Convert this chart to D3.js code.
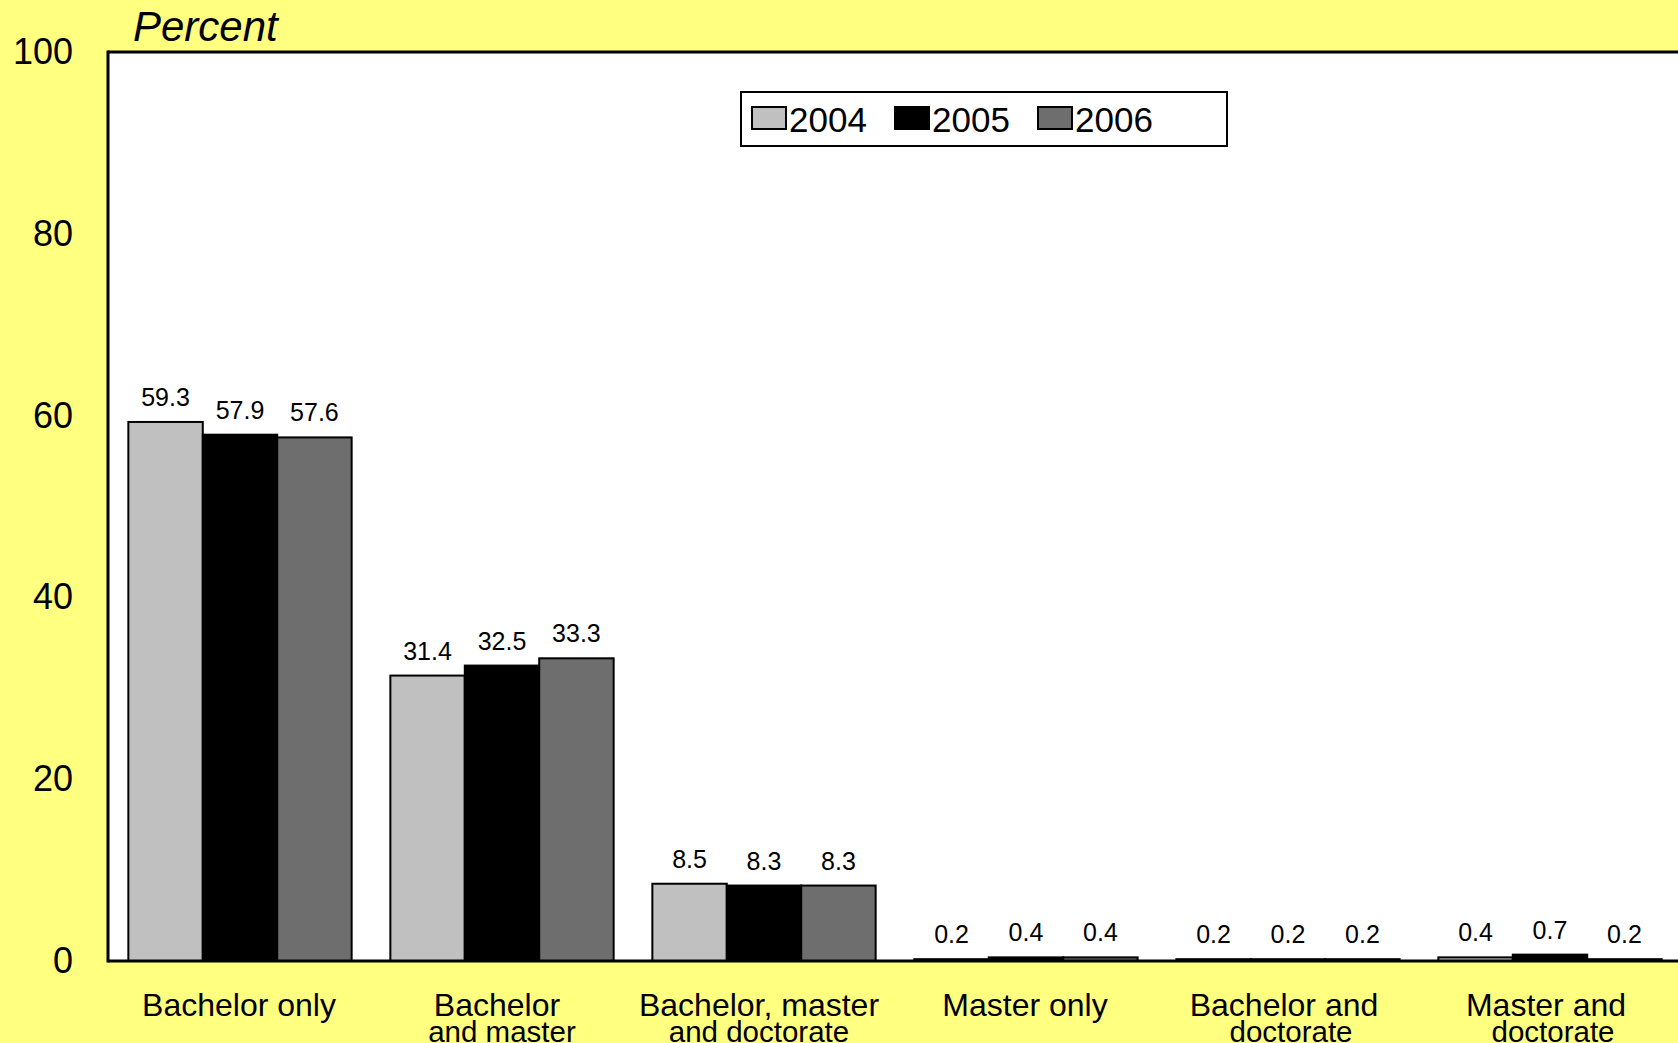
<!DOCTYPE html>
<html>
<head>
<meta charset="utf-8">
<script src="https://cdn.jsdelivr.net/npm/d3@7"></script>
<style>
  body { margin: 0; background: #ffff80; overflow: hidden; }
  text { font-family: "Liberation Sans", Arial, sans-serif; }
</style>
</head>
<body>
<div id="chart"></div>
<script>
var categories = [
  ["Bachelor only"],
  ["Bachelor", "and master"],
  ["Bachelor, master", "and doctorate"],
  ["Master only"],
  ["Bachelor and", "doctorate"],
  ["Master and", "doctorate"]
];
var years = ["2004", "2005", "2006"];
var values2004 = [59.3, 31.4, 8.5, 0.2, 0.2, 0.4];
var values2005 = [57.9, 32.5, 8.3, 0.4, 0.2, 0.7];
var values2006 = [57.6, 33.3, 8.3, 0.4, 0.2, 0.2];
var yTicks = [0, 20, 40, 60, 80, 100];

var colors = ["#c0c0c0", "#000000", "#6e6e6e"];
var series = [values2004, values2005, values2006];

var width = 1678;
var height = 1043;

var svg = d3.select("#chart")
  .append("svg")
  .attr("width", width)
  .attr("height", height);

svg.append("rect")
  .attr("width", width)
  .attr("height", height)
  .attr("fill", "#ffff80");

var plotLeft = 108, plotTop = 52, plotBottom = 961;
var step = 262;

var x0 = d3.scaleBand()
  .domain(d3.range(categories.length))
  .range([plotLeft, plotLeft + step * categories.length])
  .padding(0);

var x1 = d3.scaleBand()
  .domain(years)
  .range([0, x0.bandwidth()])
  .paddingInner(0)
  .paddingOuter(0.26);

var y = d3.scaleLinear()
  .domain([0, 100])
  .range([plotBottom, plotTop]);

// plot area
svg.append("rect")
  .attr("x", plotLeft)
  .attr("y", plotTop)
  .attr("width", width - plotLeft + 10)
  .attr("height", plotBottom - plotTop)
  .attr("fill", "white");

// bars
years.forEach(function(yr, s) {
  svg.append("g")
    .selectAll("rect")
    .data(series[s])
    .enter()
    .append("rect")
    .attr("x", function(d, i) { return x0(i) + x1(yr) + 1; })
    .attr("y", function(d) { return y(d); })
    .attr("width", x1.bandwidth())
    .attr("height", function(d) { return y(0) - y(d); })
    .attr("fill", colors[s])
    .attr("stroke", "black")
    .attr("stroke-width", 2);

  svg.append("g")
    .selectAll("text")
    .data(series[s])
    .enter()
    .append("text")
    .attr("x", function(d, i) { return x0(i) + x1(yr) + x1.bandwidth() / 2 + 1; })
    .attr("y", function(d) { return y(d) - 16; })
    .attr("text-anchor", "middle")
    .style("font-size", "25px")
    .text(function(d) { return d.toFixed(1); });
});

// frame lines
svg.append("line")
  .attr("x1", plotLeft).attr("x2", width)
  .attr("y1", plotTop).attr("y2", plotTop)
  .attr("stroke", "black").attr("stroke-width", 3);
svg.append("line")
  .attr("x1", plotLeft).attr("x2", plotLeft)
  .attr("y1", plotTop - 1.5).attr("y2", plotBottom + 1.5)
  .attr("stroke", "black").attr("stroke-width", 3);
svg.append("line")
  .attr("x1", plotLeft).attr("x2", width)
  .attr("y1", plotBottom).attr("y2", plotBottom)
  .attr("stroke", "black").attr("stroke-width", 3);

// y axis labels
var yAxis = d3.axisLeft(y)
  .tickValues(yTicks)
  .tickSize(0)
  .tickPadding(35);
var yg = svg.append("g")
  .attr("transform", "translate(" + plotLeft + ",0)")
  .call(yAxis);
yg.select(".domain").remove();
yg.selectAll("text")
  .style("font-size", "36px")
  .style("font-family", "Liberation Sans, Arial, sans-serif")
  .attr("fill", "black");

svg.append("text")
  .attr("x", 133)
  .attr("y", 41)
  .style("font-size", "42px")
  .style("font-style", "italic")
  .text("Percent");

// category labels (small horizontal nudges per line, as in the original)
var lineShift = [[0], [-4, 1], [-4, -4], [0], [-3, 4], [-3, 4]];
categories.forEach(function(lines, i) {
  var cx = x0(i) + x0.bandwidth() / 2;
  var t = svg.append("text")
    .attr("text-anchor", "middle")
    .attr("y", 1016)
    .style("font-size", "32px");
  lines.forEach(function(l, k) {
    t.append("tspan")
      .attr("x", cx + lineShift[i][k])
      .attr("dy", k === 0 ? 0 : 26)
      .style("font-size", k === 0 ? "32px" : "29.5px")
      .text(l);
  });
});

// legend
var legend = svg.append("g");
legend.append("rect")
  .attr("x", 741)
  .attr("y", 92)
  .attr("width", 486)
  .attr("height", 54)
  .attr("fill", "white")
  .attr("stroke", "black")
  .attr("stroke-width", 2);

years.forEach(function(yr, s) {
  var lx = 752 + s * 143;
  legend.append("rect")
    .attr("x", lx)
    .attr("y", 107)
    .attr("width", 34)
    .attr("height", 22)
    .attr("fill", colors[s])
    .attr("stroke", "black")
    .attr("stroke-width", 2);
  legend.append("text")
    .attr("x", lx + 37)
    .attr("y", 132)
    .style("font-size", "35px")
    .text(yr);
});
</script>
</body>
</html>
